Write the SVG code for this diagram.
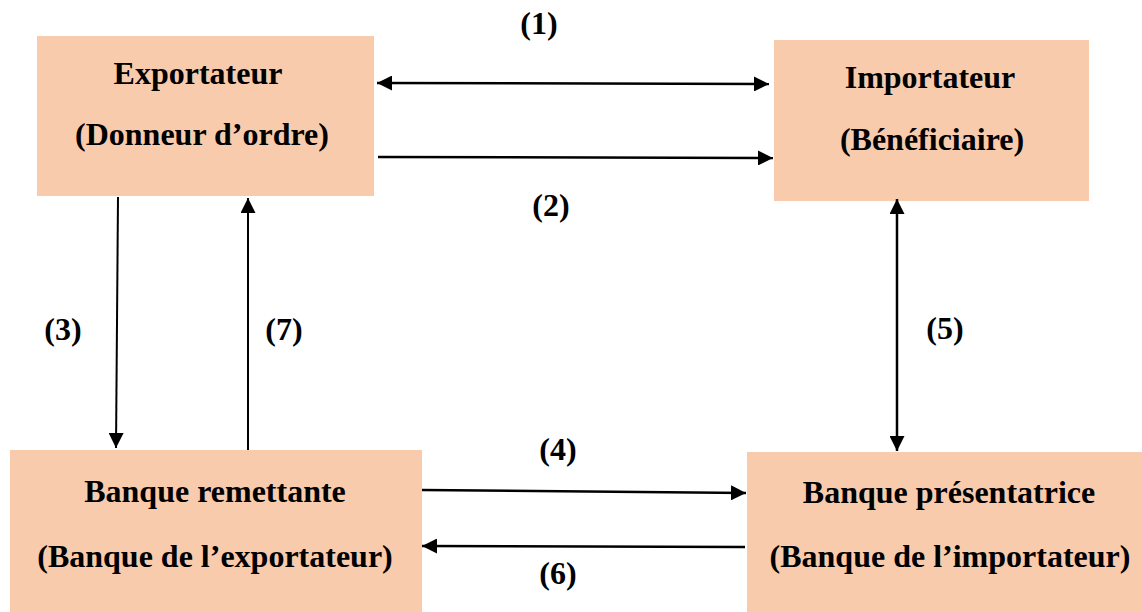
<svg xmlns="http://www.w3.org/2000/svg" width="1142" height="612" viewBox="0 0 1142 612">
  <style>
    .box { fill: #F8CBAD; }
    .t { font-family: "Liberation Serif", "Times New Roman", serif; font-weight: bold; font-size: 32px; fill: #000; text-anchor: middle; }
    .line { stroke: #000; stroke-width: 2.5; fill: none; }
    .thin { stroke: #000; stroke-width: 2; fill: none; }
  </style>
  <defs>
    <marker id="arr" viewBox="0 0 10 10" refX="10" refY="5" markerWidth="6" markerHeight="6" markerUnits="strokeWidth" orient="auto-start-reverse">
      <path d="M0,0 L10,5 L0,10 Z" fill="#000"/>
    </marker>
    <marker id="arrT" viewBox="0 0 10 10" refX="10" refY="5" markerWidth="7.5" markerHeight="7.5" markerUnits="strokeWidth" orient="auto-start-reverse">
      <path d="M0,0 L10,5 L0,10 Z" fill="#000"/>
    </marker>
  </defs>

  <rect width="1142" height="612" fill="#fff"/>

  <g id="exportateur">
    <rect class="box" x="37" y="36" width="337" height="160"/>
    <text class="t" x="198" y="84">Exportateur</text>
    <text class="t" x="202" y="145">(Donneur d’ordre)</text>
  </g>

  <g id="importateur">
    <rect class="box" x="774" y="40" width="315" height="161"/>
    <text class="t" x="930" y="88">Importateur</text>
    <text class="t" x="932" y="150">(Bénéficiaire)</text>
  </g>

  <g id="banque-remettante">
    <rect class="box" x="10" y="450" width="412" height="162"/>
    <text class="t" x="215" y="502">Banque remettante</text>
    <text class="t" x="215" y="567">(Banque de l’exportateur)</text>
  </g>

  <g id="banque-presentatrice">
    <rect class="box" x="747" y="452" width="395" height="160"/>
    <text class="t" x="949" y="503">Banque présentatrice</text>
    <text class="t" x="950" y="567">(Banque de l’importateur)</text>
  </g>

  <g id="connectors">
    <line class="line" x1="377" y1="83" x2="769" y2="84" marker-start="url(#arr)" marker-end="url(#arr)"/>
    <line class="line" x1="378" y1="157" x2="773" y2="158" marker-end="url(#arr)"/>
    <line class="thin" x1="118" y1="197" x2="116" y2="448" marker-end="url(#arrT)"/>
    <line class="thin" x1="248" y1="450" x2="248" y2="198" marker-end="url(#arrT)"/>
    <line class="line" x1="897" y1="199" x2="897" y2="451" marker-start="url(#arr)" marker-end="url(#arr)"/>
    <line class="line" x1="422" y1="490" x2="746" y2="493" marker-end="url(#arr)"/>
    <line class="line" x1="745" y1="547" x2="422" y2="546" marker-end="url(#arr)"/>
  </g>

  <g id="labels">
    <text class="t" x="539" y="34">(1)</text>
    <text class="t" x="551" y="216">(2)</text>
    <text class="t" x="63" y="340">(3)</text>
    <text class="t" x="284" y="340">(7)</text>
    <text class="t" x="945" y="339">(5)</text>
    <text class="t" x="558" y="460">(4)</text>
    <text class="t" x="558" y="584">(6)</text>
  </g>
</svg>
